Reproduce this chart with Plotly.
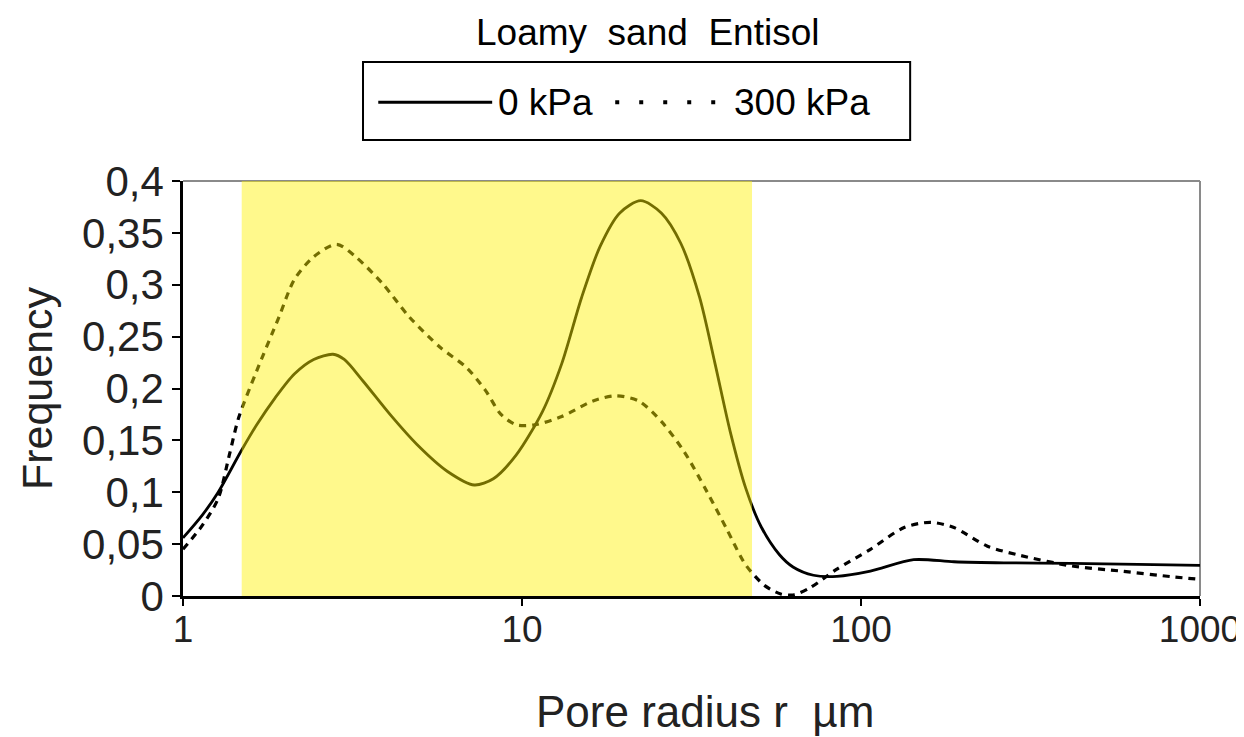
import plotly.graph_objects as go

# ---- data ----
x_0kpa = [1.0, 1.14, 1.27, 1.48, 1.65, 1.87, 2.13, 2.43, 2.77, 2.99, 3.40, 4.08, 4.90, 6.03, 7.23, 8.23,
          9.62, 11.5, 13.1, 15.0, 17.0, 19.4, 22.4, 25.8, 29.4, 33.4, 37.1, 41.1, 45.7, 50.7, 57.4,
          63.0, 72.4, 84.9, 106.6, 143, 188, 264, 417, 656, 1000]
y_0kpa = [0.056, 0.078, 0.100, 0.139, 0.165, 0.191, 0.214, 0.228, 0.233, 0.228, 0.207, 0.175, 0.146, 0.120, 0.107, 0.113,
          0.136, 0.178, 0.224, 0.288, 0.337, 0.369, 0.381, 0.369, 0.340, 0.288, 0.224, 0.159, 0.104, 0.067, 0.040,
          0.028, 0.020, 0.019, 0.024, 0.035, 0.033, 0.032, 0.0315, 0.0305, 0.0296]

x_300kpa = [1.0, 1.14, 1.27, 1.37, 1.46, 1.65, 1.92, 2.13, 2.43, 2.84, 3.23, 3.88, 4.65, 5.72, 6.87, 7.81,
            8.67, 9.62, 10.9, 13.1, 16.2, 18.9, 22.1, 25.8, 30.1, 35.2, 40.1, 45.7, 52.0, 58.0, 63.2,
            70.8, 84.9, 106.6, 134, 160, 188, 236, 296, 417, 586, 824, 1000]
y_300kpa = [0.045, 0.068, 0.094, 0.136, 0.172, 0.217, 0.269, 0.305, 0.327, 0.339, 0.327, 0.301, 0.269, 0.240, 0.220, 0.198,
            0.175, 0.165, 0.165, 0.173, 0.188, 0.193, 0.188, 0.168, 0.139, 0.100, 0.065, 0.030, 0.010, 0.002, 0.001,
            0.008, 0.026, 0.045, 0.066, 0.071, 0.066, 0.048, 0.039, 0.029, 0.024, 0.0186, 0.016]

band_start = 1.49
band_end = 47.7

x_tickvals = [1, 10, 100, 1000]
x_ticktext = ["1", "10", "100", "1000"]
y_tickvals = [0, 0.05, 0.1, 0.15, 0.2, 0.25, 0.3, 0.35, 0.4]
y_ticktext = ["0", "0,05", "0,1", "0,15", "0,2", "0,25", "0,3", "0,35", "0,4"]

FONT = "Liberation Sans, Arial, Helvetica, sans-serif"

fig = go.Figure()
fig.add_trace(go.Scatter(x=x_0kpa, y=y_0kpa, mode="lines", name="0 kPa",
                         line=dict(color="black", width=2.8, shape="spline", smoothing=0.8)))
fig.add_trace(go.Scatter(x=x_300kpa, y=y_300kpa, mode="lines", name="300 kPa",
                         line=dict(color="black", width=3.2, shape="spline", smoothing=0.8, dash="7px,6px")))

shapes = []
# top and right frame (gray)
shapes.append(dict(type="line", xref="paper", yref="paper", x0=0, x1=1, y0=1, y1=1,
                   line=dict(color="#8a8a8a", width=2), layer="below"))
shapes.append(dict(type="line", xref="paper", yref="paper", x0=1, x1=1, y0=0, y1=1,
                   line=dict(color="#8a8a8a", width=2), layer="below"))
# highlighted band
shapes.append(dict(type="rect", xref="x", yref="y", x0=band_start, x1=band_end, y0=0, y1=0.4,
                   fillcolor="rgb(255,242,0)", opacity=0.45, line=dict(width=0), layer="above"))
# legend box
shapes.append(dict(type="rect", xref="paper", yref="paper", x0=0.177, x1=0.715, y0=1.099, y1=1.287,
                   line=dict(color="black", width=2), fillcolor="white"))
shapes.append(dict(type="line", xref="paper", yref="paper", x0=0.192, x1=0.304, y0=1.19, y1=1.19,
                   line=dict(color="black", width=3)))
shapes.append(dict(type="line", xref="paper", yref="paper", x0=0.425, x1=0.537, y0=1.19, y1=1.19,
                   line=dict(color="black", width=4, dash="4px,20px")))

annotations = [
    dict(text="Loamy\u00a0 sand\u00a0 Entisol", xref="paper", yref="paper", x=0.457, y=1.357,
         showarrow=False, font=dict(family=FONT, size=37, color="black"), xanchor="center", yanchor="middle"),
    dict(text="0 kPa", xref="paper", yref="paper", x=0.308, y=1.19, showarrow=False,
         font=dict(family=FONT, size=37, color="black"), xanchor="left", yanchor="middle"),
    dict(text="300 kPa", xref="paper", yref="paper", x=0.540, y=1.19, showarrow=False,
         font=dict(family=FONT, size=37, color="black"), xanchor="left", yanchor="middle"),
    dict(text="Frequency", xref="paper", yref="paper", x=-0.1436, y=0.501, showarrow=False, textangle=-90,
         font=dict(family=FONT, size=43, color="#222"), xanchor="center", yanchor="middle"),
    dict(text="Pore radius r\u00a0 \u00b5m", xref="paper", yref="paper", x=0.513, y=-0.2795, showarrow=False,
         font=dict(family=FONT, size=44, color="#222"), xanchor="center", yanchor="middle"),
]

# page body has an 8px default margin: compensate so the plot area lands where the reference has it
fig.update_layout(
    width=1236, height=729,
    margin=dict(l=175, r=44, t=173, b=141, autoexpand=False),
    paper_bgcolor="white", plot_bgcolor="white",
    showlegend=False,
    shapes=shapes, annotations=annotations,
    xaxis=dict(type="log", range=[0, 3], tickvals=x_tickvals, ticktext=x_ticktext, automargin=False,
               showgrid=False, zeroline=False, showline=True, linecolor="black", linewidth=2.5,
               ticks="outside", ticklen=7, tickwidth=1.5, tickcolor="black", ticklabelstandoff=-8,
               tickfont=dict(family=FONT, size=37, color="#222")),
    yaxis=dict(range=[0, 0.4], tickvals=y_tickvals, ticktext=y_ticktext, automargin=False,
               showgrid=False, zeroline=False, showline=True, linecolor="black", linewidth=2.5,
               ticks="outside", ticklen=8, tickwidth=1.5, tickcolor="black",
               tickfont=dict(family=FONT, size=42, color="#222")),
)

fig.write_html("out.html")
